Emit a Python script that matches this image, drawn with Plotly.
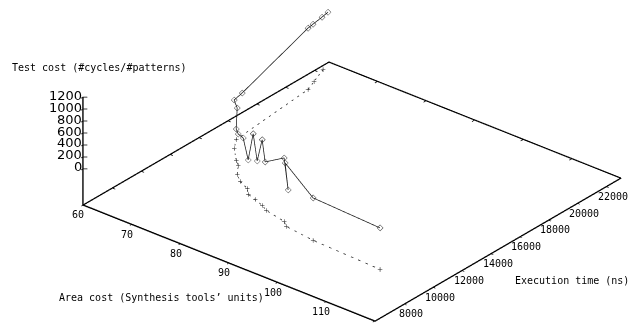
import plotly.graph_objects as go

# ---- data ----
# series 1: solid line, open diamonds
area_s = [65.74, 66.06, 66.43, 66.66, 72.25, 72.74, 74.79, 79.08, 80.37, 81.82,
          87.05, 87.17, 88.36, 89.53, 89.54, 91.02, 98.23, 92.20, 102.96, 117.44]
time_s = [21000, 20479, 19731, 19309, 12868, 12148, 11667, 10156, 9859, 9718,
          8304, 8609, 8486, 8438, 8640, 9455, 7308, 9130, 7444, 7205]
test_s = [700, 700, 700, 700, 700, 700, 700, 700, 700, 700,
          700, 1100, 700, 1100, 700, 700, 700, 700, 700, 700]

# series 2: dashed line, plus marks
area_d = [68.77, 70.20, 71.14, 72.86, 74.50, 77.27, 78.56, 80.33, 82.16, 84.49,
          85.87, 87.77, 89.89, 91.43, 95.93, 97.23, 103.46, 117.73]
time_d = [19634, 18533, 17801, 12250, 11558, 10767, 10469, 9806, 9396, 9098,
          8703, 8545, 8319, 8078, 7806, 7509, 7277, 7109]
test_d = [30] * 18

# axes
x_range = [60, 120]
y_range = [6000, 23000]
z_base = -600          # base plane level (gnuplot ticslevel)
z_top = 1200
x_ticks = [60, 70, 80, 90, 100, 110, 120]
y_ticks = [8000, 10000, 12000, 14000, 16000, 18000, 20000, 22000]
z_ticks = [0, 200, 400, 600, 800, 1000, 1200]

x_title = "Area cost (Synthesis tools\u2019 units)"
y_title = "Execution time (ns)"
z_title = "Test cost (#cycles/#patterns)"

eps = 1e-3
fig = go.Figure()

fig.add_trace(go.Scatter3d(
    x=area_s, y=time_s, z=test_s, mode="lines+markers",
    line=dict(color="#1a1a1a", width=1.5),
    marker=dict(symbol="diamond-open", size=2.2, color="#333333"),
    hoverinfo="skip"))

fig.add_trace(go.Scatter3d(
    x=area_d, y=time_d, z=test_d, mode="lines+markers",
    line=dict(color="#333333", width=1.5, dash="dash"),
    marker=dict(symbol="cross", size=2.5, color="#222222"),
    hoverinfo="skip"))

# back edges of the base plane
fig.add_trace(go.Scatter3d(
    x=[x_range[0], x_range[0], x_range[1]],
    y=[y_range[0], y_range[1], y_range[1]],
    z=[z_base, z_base, z_base], mode="lines",
    line=dict(color="black", width=2.5), hoverinfo="skip"))

# gnuplot-style tick marks: mirrored ticks on the back edges, and z ticks
tx, ty, tz = [], [], []
x_len = (x_range[1] - x_range[0]) * 0.010
y_len = (y_range[1] - y_range[0]) * 0.011
for v in y_ticks:
    tx += [x_range[0], x_range[0] + x_len, None]
    ty += [v, v, None]
    tz += [z_base, z_base, None]
for v in x_ticks[1:-1]:
    tx += [v, v, None]
    ty += [y_range[1], y_range[1] - y_len, None]
    tz += [z_base, z_base, None]
for v in z_ticks:
    tx += [x_range[0], x_range[0] + 0.8 * x_len, None]
    ty += [y_range[0], y_range[0] + 0.6 * y_len, None]
    tz += [v, v, None]
fig.add_trace(go.Scatter3d(x=tx, y=ty, z=tz, mode="lines",
                           line=dict(color="black", width=1.5), hoverinfo="skip"))

def pad(r):
    d = (r[1] - r[0]) * eps
    return [r[0] - d, r[1] + d]

axis_common = dict(showgrid=False, zeroline=False, showbackground=False,
                   showline=True, linecolor="black", linewidth=3,
                   ticks="inside", ticklen=3, tickwidth=1.5, tickcolor="black",
                   showticklabels=False,
                   showspikes=False, title=dict(text=""))

mono = dict(family="DejaVu Sans Mono", size=10, color="black")
zfont = dict(family="DejaVu Sans", size=13, color="black")

# tick labels placed at the tick positions in data space
scene_ann = []
for v in x_ticks:
    scene_ann.append(dict(x=v, y=y_range[0], z=z_base, text=str(v),
                          xshift=-5, yshift=-10, font=mono))
for v in y_ticks:
    scene_ann.append(dict(x=x_range[1], y=v, z=z_base, text=str(v),
                          xshift=7, yshift=-10, font=mono))
for v in z_ticks:
    scene_ann.append(dict(x=x_range[0], y=y_range[0], z=v, text=str(v),
                          xanchor="right", xshift=1, yshift=2, font=zfont))
for a in scene_ann:
    a.update(showarrow=False, yanchor="middle")
    a.setdefault("xanchor", "center")

# camera: orthographic, looking from +x / -y / above
view_dir = (1.118, -1.352, 0.962)
center = (-0.1345, -0.2054, -0.1324)
eye = tuple(c + v for c, v in zip(center, view_dir))

fig.update_layout(
    width=628, height=324,
    margin=dict(l=0, r=0, t=0, b=0),
    paper_bgcolor="white",
    showlegend=False,
    scene=dict(
        domain=dict(x=[0, 1], y=[0, 1]),
        xaxis=dict(range=pad(x_range), tickvals=x_ticks, **axis_common),
        yaxis=dict(range=pad(y_range), tickvals=y_ticks, **axis_common),
        zaxis=dict(range=pad([z_base, z_top]), tickvals=z_ticks, **axis_common),
        aspectmode="manual",
        aspectratio=dict(x=2.340, y=2.383, z=0.76),
        camera=dict(projection=dict(type="orthographic"),
                    eye=dict(x=eye[0], y=eye[1], z=eye[2]),
                    up=dict(x=0, y=0, z=1),
                    center=dict(x=center[0], y=center[1], z=center[2])),
        annotations=scene_ann,
    ),
    annotations=[
        dict(text=z_title, x=10, y=67),
        dict(text=x_title, x=57, y=297),
        dict(text=y_title, x=513, y=280),
    ],
)

for a in fig.layout.annotations:
    a.update(x=a.x / 628, y=1 - a.y / 324, xref="paper", yref="paper",
             showarrow=False, xanchor="left", yanchor="middle", font=mono)

fig.write_html("out.html", config={"displayModeBar": False},
               post_script="document.body.style.margin='0';")
